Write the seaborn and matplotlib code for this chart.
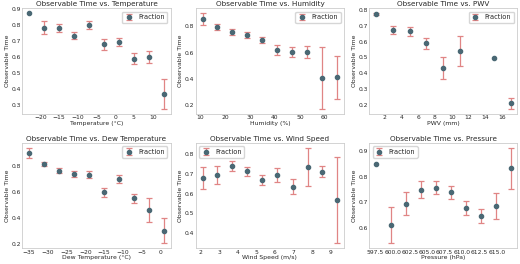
import numpy as np
import seaborn as sns
import matplotlib.pyplot as plt

# values
temp_x = [-23, -19, -15, -11, -7, -3, 1, 5, 9, 13]
temp_y = [0.875, 0.785, 0.785, 0.735, 0.800, 0.680, 0.695, 0.590, 0.600, 0.370]
temp_err = [np.nan, 0.040, 0.025, 0.024, 0.025, 0.035, 0.027, 0.033, 0.040, 0.095]

hum_x = [11, 17, 23, 29, 35, 41, 47, 53, 59, 65]
hum_y = [0.855, 0.795, 0.755, 0.735, 0.695, 0.620, 0.605, 0.605, 0.405, 0.410]
hum_err = [0.045, 0.025, 0.025, 0.022, 0.025, 0.040, 0.038, 0.045, 0.235, 0.165]

pwv_x = [1, 3, 5, 7, 9, 11, 15, 17]
pwv_y = [0.775, 0.675, 0.665, 0.590, 0.435, 0.540, 0.495, 0.210]
pwv_err = [0.005, 0.025, 0.030, 0.035, 0.070, 0.095, np.nan, 0.035]

dew_x = [-35, -31, -27, -23, -19, -15, -11, -7, -3, 1]
dew_y = [0.900, 0.815, 0.765, 0.740, 0.735, 0.600, 0.700, 0.555, 0.465, 0.305]
dew_err = [0.040, 0.018, 0.020, 0.020, 0.025, 0.035, 0.030, 0.035, 0.090, 0.097]

wind_x = [2.1, 2.9, 3.7, 4.5, 5.3, 6.1, 6.95, 7.75, 8.55, 9.35]
wind_y = [0.678, 0.695, 0.738, 0.712, 0.670, 0.695, 0.635, 0.733, 0.710, 0.567]
wind_err = [0.055, 0.045, 0.027, 0.022, 0.025, 0.035, 0.040, 0.097, 0.027, 0.218]

pres_x = [597.6, 599.8, 601.9, 604.1, 606.2, 608.4, 610.6, 612.7, 614.9, 617.0]
pres_y = [0.850, 0.610, 0.695, 0.748, 0.757, 0.739, 0.677, 0.648, 0.685, 0.832]
pres_err = [np.nan, 0.070, 0.045, 0.033, 0.025, 0.025, 0.028, 0.027, 0.050, 0.080]

panels = [
  ('Temperature', 'Temperature (°C)', temp_x, temp_y, temp_err, 'upper right'),
  ('Humidity', 'Humidity (%)', hum_x, hum_y, hum_err, 'upper right'),
  ('PWV', 'PWV (mm)', pwv_x, pwv_y, pwv_err, 'upper right'),
  ('Dew Temperature', 'Dew Temperature (°C)', dew_x, dew_y, dew_err, 'upper right'),
  ('Wind Speed', 'Wind Speed (m/s)', wind_x, wind_y, wind_err, 'upper left'),
  ('Pressure', 'Pressure (hPa)', pres_x, pres_y, pres_err, 'upper left'),
]

sns.set_theme(style = 'whitegrid')
plt.rcParams['font.family'] = ['DejaVu Sans']

fig, axes = plt.subplots(2, 3, figsize = (5.2, 2.64), dpi = 100)
for ax, (name, xlabel, x, y, err, loc) in zip(axes.flat, panels):
  ax.errorbar(x, y, yerr = err, fmt = 'o', color = '#4a6874',
              ecolor = '#e08585', elinewidth = 0.9, capsize = 2,
              capthick = 0.9, markersize = 3, label = 'Fraction')
  ax.grid(False)
  ax.set_title('Observable Time vs. ' + name, fontsize = 5.2, pad = 1.5)
  ax.set_xlabel(xlabel, fontsize = 4.4, labelpad = 0.5)
  ax.set_ylabel('Observable Time', fontsize = 4.4, labelpad = 1)
  ax.tick_params(labelsize = 4.3, pad = 1, length = 0)
  for s in ax.spines.values():
    s.set_linewidth(0.6)
    s.set_color('#cccccc')
  ax.legend(loc = loc, fontsize = 4.8, handlelength = 1.2,
            borderpad = 0.4, frameon = True)

axes[0, 1].set_xticks([10, 20, 30, 40, 50, 60])
axes[0, 2].set_xticks([2, 4, 6, 8, 10, 12, 14, 16])
axes[1, 1].set_xticks([2, 3, 4, 5, 6, 7, 8, 9])
axes[1, 2].set_xticks([597.5, 600.0, 602.5, 605.0, 607.5, 610.0, 612.5, 615.0])
axes[1, 2].set_xticklabels(['597.5', '600.0', '602.5', '605.0', '607.5',
                            '610.0', '612.5', '615.0'])

plt.subplots_adjust(left = 0.043, right = 0.995, top = 0.968, bottom = 0.06,
                    wspace = 0.17, hspace = 0.28)
plt.savefig('out.png', dpi = 100)
